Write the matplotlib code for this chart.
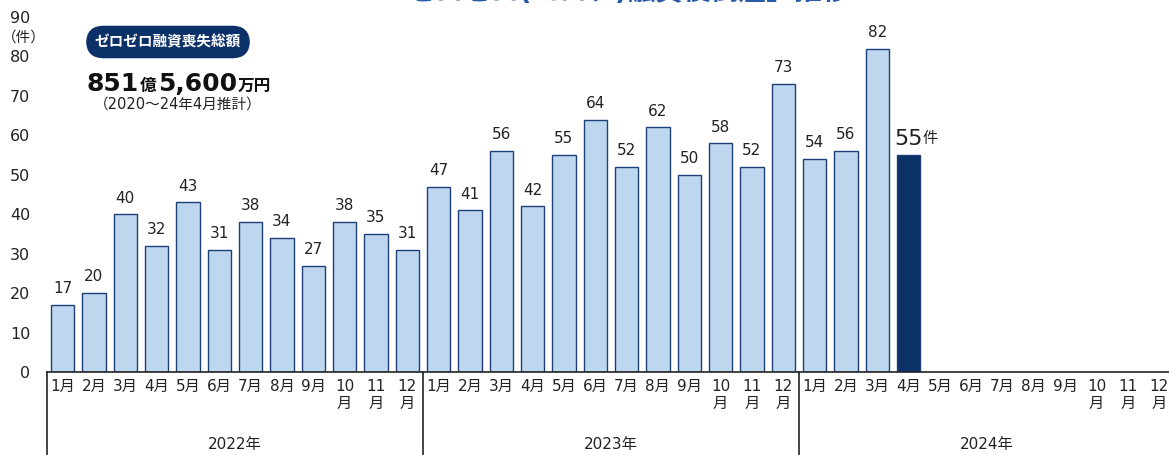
import matplotlib.pyplot as plt
import matplotlib.transforms as mtransforms

plt.rcParams['font.family'] = ['DejaVu Sans', 'Noto Sans CJK JP']

# monthly bankruptcies after zero-zero loans
years = ['2022年', '2023年', '2024年']
months = ['1月', '2月', '3月', '4月', '5月', '6月', '7月', '8月', '9月', '10\n月', '11\n月', '12\n月']
counts_2022 = [17, 20, 40, 32, 43, 31, 38, 34, 27, 38, 35, 31]
counts_2023 = [47, 41, 56, 42, 55, 64, 52, 62, 50, 58, 52, 73]
counts_2024 = [54, 56, 82, 55]

values = counts_2022 + counts_2023 + counts_2024
W, H = 1169, 455

fig = plt.figure(figsize=(W / 100, H / 100), dpi=100)
slot = 31.33
ax = fig.add_axes([47 / W, 1 - 372 / H, 36 * slot / W, 355 / H])

light = '#bdd7ee'
dark = '#0c3169'
edge = '#1f3f7a'
xs = list(range(len(values)))
colors = [light] * (len(values) - 1) + [dark]
ax.bar(xs, values, width=0.74, color=colors, edgecolor=edge, linewidth=1.0, zorder=2)
ax.set_xlim(-0.5, 35.5)
ax.set_ylim(0, 90)

for x, v in zip(xs[:-1], values[:-1]):
    ax.text(x, v + 2.2, str(v), ha='center', va='bottom', fontsize=11, color='#222222')
last = ax.text(xs[-1] - 0.45, values[-1] + 1.6, str(values[-1]), ha='left', va='bottom',
               fontsize=16, color='#222222')
fig.canvas.draw()
bb = last.get_window_extent(fig.canvas.get_renderer())
fig.text(bb.x1 / W, bb.y0 / H + 0.007, '件', ha='left', va='bottom', fontsize=11, color='#222222')

ax.set_yticks(range(0, 91, 10))
ax.tick_params(axis='y', length=0, pad=12, labelsize=11.5, labelcolor='#222222')
ax.set_xticks([])
for s in ['top', 'right', 'left']:
    ax.spines[s].set_visible(False)
ax.spines['bottom'].set_color('#222222')
ax.spines['bottom'].set_linewidth(1.2)
fig.text(24 / W, 1 - 37 / H, '（件）', ha='center', va='center', fontsize=10.5, color='#222222')

# month and year labels below the axis
trans = mtransforms.blended_transform_factory(ax.transData, fig.transFigure)
for yi, year in enumerate(years):
    for mi, m in enumerate(months):
        ax.text(yi * 12 + mi, 1 - 379 / H, m, transform=trans, ha='center', va='top',
                fontsize=11, color='#222222', linespacing=1.15)
    ax.text(yi * 12 + 5.5, 1 - 444 / H, year, transform=trans, ha='center', va='center',
            fontsize=11, color='#222222')
    ax.plot([yi * 12 - 0.5] * 2, [1 - 372 / H, 0], transform=trans, color='#222222',
            lw=1.2, clip_on=False)

# cut-off title at top
fig.text(615 / W, 1 - 6 / H, '「ゼロゼロ(コロナ)融資後倒産」推移', ha='center', va='bottom',
         fontsize=20, fontweight='bold', color='#2a5aa8')

# badge and total
fig.text(168 / W, 1 - 42 / H, 'ゼロゼロ融資喪失総額', ha='center', va='center',
         fontsize=10.5, fontweight='bold', color='white',
         bbox=dict(boxstyle='round,pad=0.6,rounding_size=1.2', facecolor=dark, edgecolor='none'))

parts = [('851', 18), ('億', 12), ('5,600', 18), ('万円', 12)]
x0 = 87
for txt, fs in parts:
    t = fig.text(x0 / W, 1 - 91 / H, txt, ha='left', va='baseline', fontsize=fs,
                 fontweight='bold', color='#111111')
    fig.canvas.draw()
    x0 = t.get_window_extent(fig.canvas.get_renderer()).x1 + 1
fig.text(178 / W, 1 - 104 / H, '（2020～24年4月推計）', ha='center', va='center',
         fontsize=10.5, color='#222222')

fig.savefig('out.png', dpi=100)
